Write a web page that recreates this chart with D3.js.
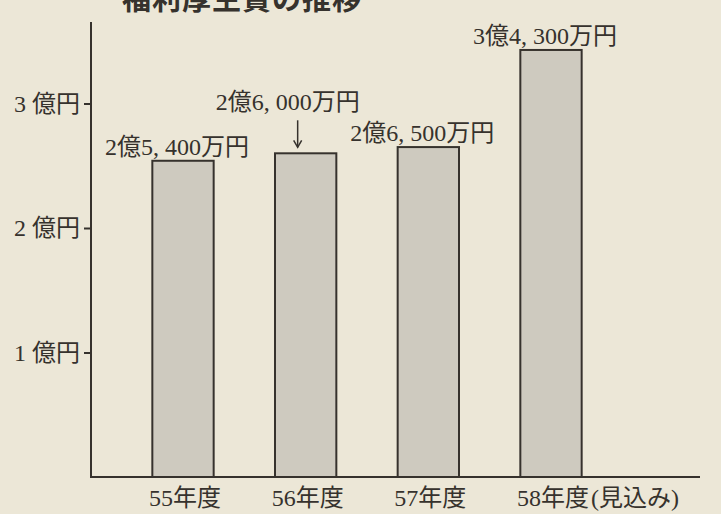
<html lang="ja">
<head>
  <meta charset="utf-8">
  <title>福利厚生費の推移</title>
  <script src="https://cdn.jsdelivr.net/npm/d3@7"></script>
</head>
<style type="text/css">
  html, body {
    margin: 0;
    padding: 0;
    overflow: hidden;
    background: #ece7d7;
  }
  svg {
    display: block;
  }
  text {
    font-family: "Liberation Serif", "Noto Sans CJK JP", serif;
    fill: #36322d;
  }
</style>
<body>
  <svg width="721" height="514"></svg>
  <script>
    // 年度
    const years = ["55年度", "56年度", "57年度", "58年度"];
    const yearNotes = ["", "", "", "(見込み)"];
    // 金額 (万円)
    const amounts = [25400, 26000, 26500, 34300];
    // 目盛 (億円)
    const tickValues = [1, 2, 3];
    const title = "福利厚生費の推移";

    const ink = "#36322d";
    const svg = d3.select("svg");

    const x = d3.scaleBand()
      .domain(years)
      .range([91, 643])
      .paddingInner(0.5)
      .paddingOuter(0.5);

    // 1億円 = 10000万円
    const y = d3.scaleLinear()
      .domain([0, 3])
      .range([477, 103.5]);

    // title (cut off at the top of the picture, as in the scan)
    svg.append("text")
      .attr("x", 122)
      .attr("y", 10)
      .attr("font-size", 29)
      .attr("font-weight", "bold")
      .style("font-family", "'Noto Sans CJK JP', sans-serif")
      .attr("letter-spacing", 1)
      .text(title);

    // bars
    svg.selectAll("rect.bar")
      .data(amounts)
      .enter()
      .append("rect")
      .attr("class", "bar")
      .attr("x", (d, i) => x(years[i]))
      .attr("y", d => y(d / 10000))
      .attr("width", x.bandwidth())
      .attr("height", d => y(0) - y(d / 10000))
      .attr("fill", "#cecabf")
      .attr("stroke", ink)
      .attr("stroke-width", 2);

    // axes
    svg.append("line")
      .attr("x1", 91).attr("x2", 91)
      .attr("y1", 22).attr("y2", y(0))
      .attr("stroke", ink).attr("stroke-width", 2);
    svg.append("line")
      .attr("x1", 90).attr("x2", 700)
      .attr("y1", y(0)).attr("y2", y(0))
      .attr("stroke", ink).attr("stroke-width", 2);

    const yAxis = svg.append("g")
      .attr("transform", "translate(91,0)")
      .call(d3.axisLeft(y)
        .tickValues(tickValues)
        .tickSize(7)
        .tickPadding(4)
        .tickFormat(d => d + " 億円"));
    yAxis.select(".domain").remove();
    yAxis.selectAll(".tick line").attr("stroke", ink).attr("stroke-width", 2);
    yAxis.selectAll(".tick text")
      .attr("font-size", 24)
      .attr("fill", ink)
      .style("font-family", null);

    // category labels
    const catLabels = svg.append("g");
    years.forEach((yr, i) => {
      const cx = x(yr) + x.bandwidth() / 2;
      const t = catLabels.append("text")
        .attr("x", cx + 2)
        .attr("y", 506)
        .attr("font-size", 24)
        .attr("text-anchor", "middle")
        .text(yr);
      if (yearNotes[i]) {
        const w = t.node().getComputedTextLength();
        catLabels.append("text")
          .attr("x", cx + 2 + w / 2 + 2)
          .attr("y", 506)
          .attr("font-size", 24)
          .text(yearNotes[i]);
      }
    });

    // value labels
    const fmt = v => Math.floor(v / 10000) + "億" +
      d3.format(",")(v % 10000).replace(",", ", ") + "万円";

    amounts.forEach((v, i) => {
      const cx = x(years[i]) + x.bandwidth() / 2;
      const top = y(v / 10000);
      if (i === 1) {
        // raised label with an arrow
        svg.append("text")
          .attr("x", cx - 18)
          .attr("y", top - 43)
          .attr("font-size", 24)
          .attr("text-anchor", "middle")
          .text(fmt(v));
        svg.append("line")
          .attr("x1", cx - 8).attr("x2", cx - 8)
          .attr("y1", top - 33).attr("y2", top - 6)
          .attr("stroke", ink).attr("stroke-width", 1.5);
        svg.append("path")
          .attr("d", `M${cx - 12},${top - 13}L${cx - 8},${top - 6}L${cx - 4},${top - 13}`)
          .attr("fill", "none")
          .attr("stroke", ink)
          .attr("stroke-width", 1.5);
      } else {
        svg.append("text")
          .attr("x", cx - 6)
          .attr("y", top - 6)
          .attr("font-size", 24)
          .attr("text-anchor", "middle")
          .text(fmt(v));
      }
    });
  </script>
</body>
</html>
